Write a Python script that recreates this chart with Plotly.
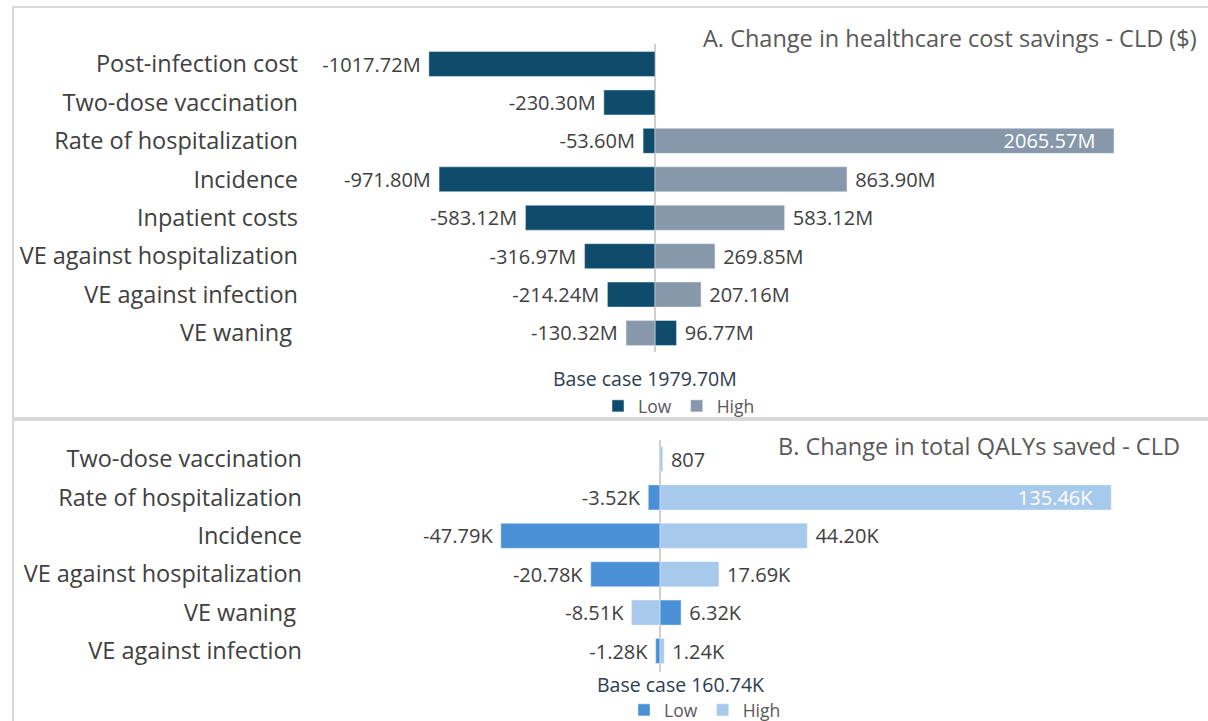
import plotly.graph_objects as go

W, H = 1208, 745  # figure is slightly taller than the 721px window; the bottom is clipped as in the reference

# ---- Panel A data (change in healthcare cost savings, $M) ----
a_categories = ["Post-infection cost", "Two-dose vaccination", "Rate of hospitalization",
                "Incidence", "Inpatient costs", "VE against hospitalization",
                "VE against infection", "VE waning "]
a_low = [-1017.72, -230.30, -53.60, -971.80, -583.12, -316.97, -214.24, 96.77]
a_high = [None, None, 2065.57, 863.90, 583.12, 269.85, 207.16, -130.32]
a_base = "Base case 1979.70M"
a_title = "A. Change in healthcare cost savings - CLD ($)"

# ---- Panel B data (change in total QALYs saved) ----
b_categories = ["Two-dose vaccination", "Rate of hospitalization", "Incidence",
                "VE against hospitalization", "VE waning ", "VE against infection"]
b_low = [None, -3520, -47790, -20780, 6320, -1280]
b_high = [807, 135460, 44200, 17690, -8510, 1240]
b_base = "Base case 160.74K"
b_title = "B. Change in total QALYs saved - CLD"

A_LOW, A_HIGH = "#0F4C6C", "#8698AA"
B_LOW, B_HIGH = "#4A90D6", "#A7C9EB"
TXT = "#404040"
FONT = "Open Sans"
NB = "\u00a0"

CAT_SIZE, VAL_SIZE, TITLE_SIZE, BASE_SIZE, LEG_SIZE = 23.5, 20, 23.5, 19.5, 17.5


def pad(label, v, inside=False):
    if label == "":
        return ""
    if inside:
        return label + NB * 3
    return label + NB if v < 0 else NB + label


def fmt_m(v):
    return "" if v is None else f"{v:.2f}M"


def fmt_k(v):
    if v is None:
        return ""
    return f"{v/1000:.2f}K" if abs(v) >= 1000 else f"{v:.0f}"


def px_x(p):
    return p / W


def px_y(p):
    return 1 - p / H


fig = go.Figure()


def add_pair(cats, low, high, fmt, clow, chigh, xa, ya, leg, inside_thr):
    fig.add_trace(go.Bar(
        y=cats, x=low, orientation="h", name="Low", marker_color=clow, width=0.65,
        xaxis=xa, yaxis=ya,
        text=[pad(fmt(v), v) if v is not None else "" for v in low],
        textposition="outside",
        outsidetextfont=dict(color=TXT, size=VAL_SIZE, family=FONT),
        cliponaxis=False, constraintext="none", legend=leg, hoverinfo="skip"))
    texts, poss = [], []
    for v in high:
        if v is None:
            texts.append("")
            poss.append("none")
        elif v > inside_thr:
            texts.append(pad(fmt(v), v, inside=True))
            poss.append("inside")
        else:
            texts.append(pad(fmt(v), v))
            poss.append("outside")
    fig.add_trace(go.Bar(
        y=cats, x=high, orientation="h", name="High", marker_color=chigh, width=0.65,
        xaxis=xa, yaxis=ya, text=texts, textposition=poss, insidetextanchor="end",
        outsidetextfont=dict(color=TXT, size=VAL_SIZE, family=FONT),
        insidetextfont=dict(color="white", size=VAL_SIZE, family=FONT),
        cliponaxis=False, constraintext="none", legend=leg, hoverinfo="skip"))


add_pair(a_categories, a_low, a_high, fmt_m, A_LOW, A_HIGH, "x", "y", "legend", 1500)
add_pair(b_categories, b_low, b_high, fmt_k, B_LOW, B_HIGH, "x2", "y2", "legend2", 100000)

# Axis geometry (pixel based)
a_x0, a_x1, a_zero, a_scale = 310, 1200, 655, 0.2222   # px per M
b_x0, b_x1, b_zero, b_scale = 314, 1200, 660, 0.003330  # px per QALY
a_range = [(a_x0 - a_zero) / a_scale, (a_x1 - a_zero) / a_scale]
b_range = [(b_x0 - b_zero) / b_scale, (b_x1 - b_zero) / b_scale]

a_top, a_bot = 44.8, 352.2
b_top, b_bot = 439.8, 670.2

common_x = dict(showgrid=False, zeroline=False, showticklabels=False, showline=False, fixedrange=True)
common_y = dict(showgrid=False, zeroline=False, showline=False, ticks="", autorange="reversed",
                tickfont=dict(size=CAT_SIZE, color=TXT, family=FONT))

fig.update_layout(
    width=W, height=H,
    margin=dict(l=0, r=0, t=0, b=0),
    paper_bgcolor="white", plot_bgcolor="rgba(0,0,0,0)",
    barmode="overlay",
    font=dict(family=FONT, color=TXT),
    xaxis=dict(domain=[px_x(a_x0), px_x(a_x1)], range=a_range, anchor="y", **common_x),
    yaxis=dict(domain=[px_y(a_bot), px_y(a_top)], anchor="x", ticklabelstandoff=11, **common_y),
    xaxis2=dict(domain=[px_x(b_x0), px_x(b_x1)], range=b_range, anchor="y2", **common_x),
    yaxis2=dict(domain=[px_y(b_bot), px_y(b_top)], anchor="x2", ticklabelstandoff=11, **common_y),
    legend=dict(orientation="h", x=px_x(598), y=px_y(406), xanchor="left", yanchor="middle",
                font=dict(size=LEG_SIZE, color="#595959", family=FONT), bgcolor="rgba(0,0,0,0)",
                itemwidth=30, traceorder="normal"),
    legend2=dict(orientation="h", x=px_x(624), y=px_y(710), xanchor="left", yanchor="middle",
                 font=dict(size=LEG_SIZE, color="#595959", family=FONT), bgcolor="rgba(0,0,0,0)",
                 itemwidth=30, traceorder="normal"),
    showlegend=True,
)

shapes = [
    dict(type="rect", xref="paper", yref="paper", x0=px_x(13), x1=px_x(1215),
         y0=px_y(418), y1=px_y(7), line=dict(color="#D9D9D9", width=2)),
    dict(type="rect", xref="paper", yref="paper", x0=px_x(13), x1=px_x(1215),
         y0=px_y(752), y1=px_y(420), line=dict(color="#D9D9D9", width=2)),
    dict(type="line", xref="x", yref="paper", x0=0, x1=0, y0=px_y(352), y1=px_y(44),
         line=dict(color="#BFBFBF", width=1.5), layer="below"),
    dict(type="line", xref="x2", yref="paper", x0=0, x1=0, y0=px_y(672), y1=px_y(440),
         line=dict(color="#BFBFBF", width=1.5), layer="below"),
]
fig.update_layout(shapes=shapes)

annotations = [
    dict(text=a_title, xref="paper", yref="paper", x=px_x(1199), y=px_y(38),
         xanchor="right", yanchor="middle", showarrow=False,
         font=dict(size=TITLE_SIZE, color="#595959", family=FONT)),
    dict(text=b_title, xref="paper", yref="paper", x=px_x(1182), y=px_y(446),
         xanchor="right", yanchor="middle", showarrow=False,
         font=dict(size=TITLE_SIZE, color="#595959", family=FONT)),
    dict(text=a_base, xref="paper", yref="paper", x=px_x(645), y=px_y(379),
         xanchor="center", yanchor="middle", showarrow=False,
         font=dict(size=BASE_SIZE, color="#2E3D4F", family=FONT)),
    dict(text=b_base, xref="paper", yref="paper", x=px_x(680), y=px_y(684),
         xanchor="center", yanchor="middle", showarrow=False,
         font=dict(size=BASE_SIZE, color="#2E3D4F", family=FONT)),
]
fig.update_layout(annotations=annotations)

fig.write_html("out.html", config={"displayModeBar": False},
               post_script="document.body.style.margin='0';document.body.style.overflow='hidden';")
